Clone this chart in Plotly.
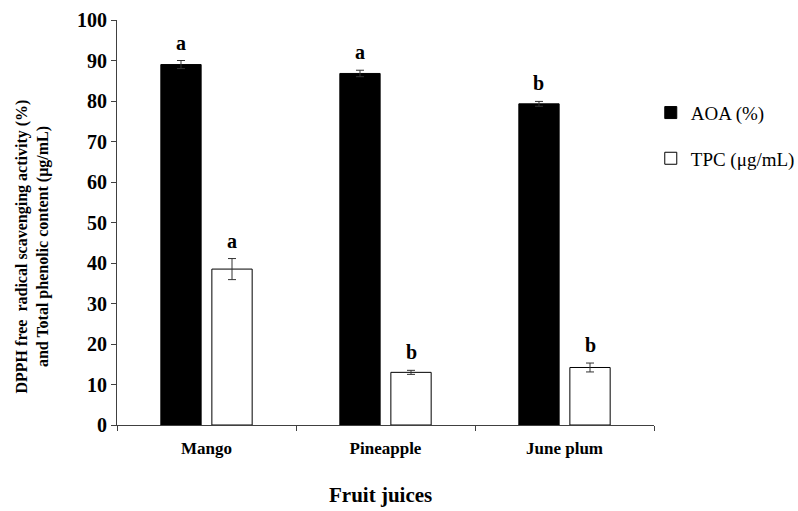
import plotly.graph_objects as go

categories = ["Mango", "Pineapple", "June plum"]
aoa = [89.0, 86.8, 79.3]
aoa_err = [1.0, 0.8, 0.6]
tpc = [38.5, 13.0, 14.2]
tpc_err = [2.6, 0.5, 1.1]
aoa_letters = ["a", "a", "b"]
tpc_letters = ["a", "b", "b"]
y_ticks = [0, 10, 20, 30, 40, 50, 60, 70, 80, 90, 100]

FONT = "Liberation Serif"
BARGAP = 0.43
GROUPGAP = 0.21

fig = go.Figure()
fig.add_trace(go.Bar(
    name="AOA (%)", x=categories, y=aoa,
    marker=dict(color="black", line=dict(color="black", width=1)),
    error_y=dict(type="data", array=aoa_err, color="#333333", thickness=1, width=4),
    legendgroup="g1",
))
fig.add_trace(go.Bar(
    name="TPC (μg/mL)", x=categories, y=tpc,
    marker=dict(color="white", line=dict(color="black", width=1)),
    error_y=dict(type="data", array=tpc_err, color="#333333", thickness=1, width=4),
    legendgroup="g2",
))

off = (1 - BARGAP) / 4
for i in range(len(categories)):
    fig.add_annotation(x=i - off, y=aoa[i] + aoa_err[i], xref="x", yref="y",
                       text=aoa_letters[i], showarrow=False,
                       yanchor="bottom", yshift=5,
                       font=dict(family=FONT, size=20, color="black", weight="bold"))
    fig.add_annotation(x=i + off, y=tpc[i] + tpc_err[i], xref="x", yref="y",
                       text=tpc_letters[i], showarrow=False,
                       yanchor="bottom", yshift=5,
                       font=dict(family=FONT, size=20, color="black", weight="bold"))

# axis titles as annotations for exact placement
fig.add_annotation(
    x=-0.157, y=0.44, xref="paper", yref="paper", textangle=-90,
    text="DPPH free  radical scavenging activity (%)<br>and Total phenolic content (μg/mL)",
    showarrow=False, xanchor="center", yanchor="middle",
    font=dict(family=FONT, size=16, color="black", weight="bold"),
)
fig.add_annotation(
    x=0.49, y=-0.172, xref="paper", yref="paper",
    text="Fruit juices", showarrow=False, xanchor="center", yanchor="middle",
    font=dict(family=FONT, size=21, color="black", weight="bold"),
)

fig.update_layout(
    template="none",
    width=798, height=511,
    margin=dict(l=117, r=144, t=20, b=86, autoexpand=False),
    paper_bgcolor="white", plot_bgcolor="white",
    barmode="group", bargap=BARGAP, bargroupgap=GROUPGAP,
    font=dict(family=FONT, color="black"),
    showlegend=True,
    legend=dict(x=0.994, y=0.818, xanchor="left", yanchor="top",
                font=dict(family=FONT, size=19, color="black"),
                tracegroupgap=18, bgcolor="rgba(0,0,0,0)"),
    xaxis=dict(
        automargin=False,
        showline=True, linecolor="#404040", linewidth=1,
        ticks="outside", ticklen=5, tickcolor="#404040", tickson="boundaries",
        ticklabelstandoff=8,
        tickfont=dict(family=FONT, size=17, color="black", weight="bold"),
        showgrid=False, zeroline=False,
    ),
    yaxis=dict(
        automargin=False,
        range=[0, 100], tickvals=y_ticks,
        showline=True, linecolor="#404040", linewidth=1,
        ticks="outside", ticklen=5, tickcolor="#404040",
        tickfont=dict(family=FONT, size=20, color="black", weight="bold"),
        showgrid=False, zeroline=False,
    ),
)

fig.write_html("out.html", config={"displayModeBar": False},
               post_script="document.body.style.margin='0px';")
